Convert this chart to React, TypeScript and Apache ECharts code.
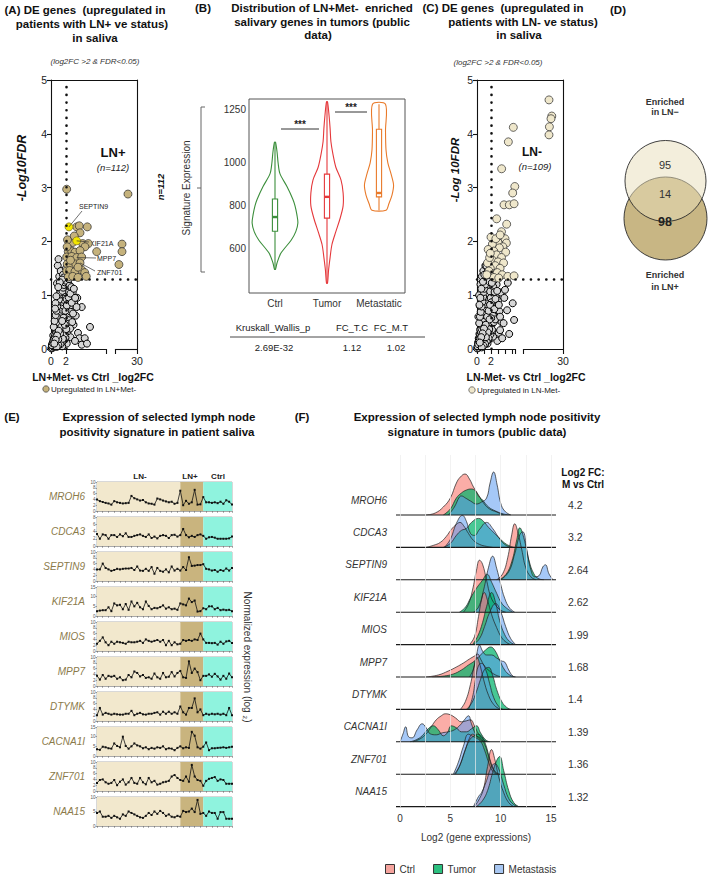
import React, { useEffect, useRef } from "react";
import * as echarts from "echarts";

const FONT = '"Liberation Sans", Arial, Helvetica, sans-serif';

/* ===== (A) saliva DE genes, LN+Met- vs Ctrl : [log2FC, -log10 FDR] ===== */
const lnPosBackground: number[][] = [
  [0.05, 0.01], [0.1, 0.03], [0.2, 0.02], [0.3, 0.05], [0.15, 0.08], [0.4, 0.04], [0.5, 0.1], [0.25, 0.12],
  [0.6, 0.06], [0.7, 0.15], [0.35, 0.18], [0.8, 0.09], [0.9, 0.2], [0.45, 0.24], [1.0, 0.13], [1.1, 0.27],
  [0.55, 0.3], [1.2, 0.18], [0.65, 0.36], [1.3, 0.33], [0.75, 0.42], [1.4, 0.24], [0.85, 0.48], [1.5, 0.4],
  [0.95, 0.54], [1.6, 0.3], [1.05, 0.6], [1.7, 0.47], [1.15, 0.66], [1.8, 0.55], [1.25, 0.72], [1.9, 0.38],
  [1.35, 0.78], [2.0, 0.62], [1.45, 0.84], [2.1, 0.5], [1.55, 0.9], [2.2, 0.7], [1.65, 0.96], [2.3, 0.58],
  [1.75, 1.02], [2.4, 0.8], [1.85, 1.08], [2.5, 0.66], [1.95, 1.14], [2.6, 0.88], [2.05, 1.2], [2.7, 0.74],
  [2.15, 1.26], [2.8, 0.95], [1.0, 0.95], [1.2, 1.1], [0.9, 0.7], [0.7, 0.55], [0.5, 0.4], [0.3, 0.25],
  [1.4, 1.2], [1.6, 1.25], [1.3, 0.5], [1.7, 0.75], [2.25, 1.0], [2.45, 1.1], [2.9, 1.05], [3.1, 0.85],
  [3.3, 0.62], [3.0, 0.45], [3.6, 0.3], [3.8, 0.2], [4.1, 0.08], [2.6, 0.22], [3.2, 0.15], [2.1, 0.1],
  [1.5, 0.05], [4.1, 0.78], [5.2, 0.41], [4.5, 0.2], [4.8, 0.1], [3.5, 0.95], [1.1, 1.35], [0.9, 1.55],
  [1.3, 1.45], [1.6, 1.38], [1.9, 1.3], [0.8, 1.22], [1.0, 1.67], [2.3, 1.4], [2.0, 1.5], [1.2, 0.85],
  [0.12, 0.07], [0.22, 0.11], [0.33, 0.15], [0.41, 0.19], [0.52, 0.23], [0.58, 0.27], [0.71, 0.31], [0.77, 0.36],
  [0.88, 0.39], [0.97, 0.45], [1.08, 0.49], [1.16, 0.57], [1.27, 0.61], [1.38, 0.69], [1.47, 0.73], [1.58, 0.81],
  [1.66, 0.87], [1.79, 0.91], [1.88, 0.99], [1.97, 1.05], [2.12, 1.09], [2.18, 1.17], [2.33, 1.21], [0.36, 0.41],
  [0.48, 0.52], [0.62, 0.63], [0.73, 0.71], [0.84, 0.79], [0.93, 0.88], [1.06, 0.92], [1.13, 1.01], [1.24, 1.05],
  [1.33, 1.13], [1.42, 1.18], [1.52, 1.08], [1.62, 1.14], [1.73, 1.19], [1.82, 1.24], [1.98, 1.27], [2.07, 0.93],
  [2.21, 0.84], [2.35, 0.96], [2.52, 0.79], [2.64, 0.69], [2.38, 0.47], [2.22, 0.33], [1.93, 0.21], [1.71, 0.16],
  [1.44, 0.12], [1.27, 0.09], [0.98, 0.07], [0.76, 0.04], [1.82, 0.28], [1.58, 0.19], [1.36, 0.41], [1.67, 0.58],
  [1.92, 0.71], [2.11, 0.81], [1.21, 0.29], [0.97, 0.18], [2.48, 1.18], [2.58, 1.03], [2.76, 0.86], [2.94, 0.66],
  [2.83, 0.5], [2.55, 0.38], [2.04, 0.37], [1.85, 0.45], [1.48, 0.52], [1.03, 0.34], [0.82, 0.25], [0.62, 0.17],
  [0.44, 0.1], [2.72, 1.15], [2.39, 1.3], [1.71, 1.33], [1.47, 1.29], [1.18, 1.24], [0.97, 1.15], [0.72, 0.98],
  [0.6, 0.85], [0.55, 0.75], [3.05, 1.12], [3.22, 0.95], [3.41, 0.78],
];
const lnPosUpregulated: number[][] = [
  [2.09, 2.97], [3.43, 2.27], [3.77, 2.29], [4.84, 2.27], [3.87, 2.16], [2.44, 1.98], [2.89, 1.98], [4.22, 1.96],
  [4.98, 1.96], [4.53, 1.9], [6.09, 1.81], [2.3, 1.81], [2.76, 1.82], [3.2, 1.8], [3.87, 1.83], [2.09, 1.71],
  [2.76, 1.72], [3.43, 1.7], [4.09, 1.71], [2.16, 1.58], [2.6, 1.57], [3.3, 1.58], [3.87, 1.6], [2.09, 1.45],
  [2.5, 1.46], [3.2, 1.44], [4.1, 1.47], [4.5, 1.42], [2.3, 1.34], [2.9, 1.35], [3.6, 1.33], [4.7, 1.35],
  [2.2, 2.03], [3.1, 2.1], [2.6, 1.65], [3.6, 1.52], [2.15, 1.9],
  [25.9, 2.88], [23.2, 1.95], [23.2, 1.81], [21.8, 1.57],
];
const lnPosMarkedGenes = ["SEPTIN9", "KIF21A", "MPP7", "ZNF701"];
const lnPosMarkedValues: number[][] = [[2.4, 2.27], [3.42, 2.01], [3.43, 1.7], [3.87, 1.6]];
const lnPosSelectedCount = 2; // first genes drawn in yellow

/* ===== (C) saliva DE genes, LN-Met- vs Ctrl ===== */
const lnNegBackground: number[][] = [
  [0.02, 0.01], [0.1, 0.04], [0.2, 0.02], [0.3, 0.08], [0.15, 0.12], [0.4, 0.05], [0.5, 0.14], [0.25, 0.2],
  [0.6, 0.1], [0.7, 0.22], [0.35, 0.28], [0.8, 0.16], [0.9, 0.3], [0.45, 0.36], [1.0, 0.24], [1.1, 0.4],
  [0.55, 0.44], [1.2, 0.32], [0.65, 0.52], [1.3, 0.48], [0.75, 0.6], [1.4, 0.38], [0.85, 0.68], [1.5, 0.56],
  [0.95, 0.76], [1.6, 0.46], [1.05, 0.84], [1.7, 0.64], [1.15, 0.92], [1.8, 0.74], [1.25, 1.0], [1.9, 0.56],
  [1.35, 1.08], [2.0, 0.84], [1.45, 1.16], [2.1, 0.68], [1.55, 1.24], [2.2, 0.94], [1.65, 1.32], [2.3, 0.78],
  [1.75, 1.4], [2.4, 1.02], [1.85, 1.48], [2.5, 0.88], [1.95, 1.2], [2.6, 1.1], [2.05, 1.36], [2.7, 0.98],
  [0.2, 0.6], [0.4, 0.8], [0.6, 1.0], [0.8, 1.15], [1.0, 1.3], [0.5, 1.2], [0.3, 1.0], [0.9, 1.45],
  [1.2, 1.55], [0.7, 1.35], [2.8, 1.2], [3.0, 0.9], [3.2, 0.7], [3.5, 0.5], [3.8, 0.48], [4.3, 0.72],
  [5.1, 0.85], [4.4, 1.23], [5.3, 0.54], [3.1, 0.3], [2.9, 0.15], [3.6, 0.2], [4.6, 0.28], [2.3, 0.23],
  [1.5, 0.1], [2.1, 0.45], [2.7, 0.6], [3.4, 1.05], [3.9, 0.95], [4.0, 1.1], [2.45, 1.28], [3.3, 0.35],
  [0.08, 0.05], [0.18, 0.09], [0.27, 0.16], [0.38, 0.2], [0.46, 0.27], [0.57, 0.31], [0.63, 0.38], [0.74, 0.43],
  [0.83, 0.5], [0.92, 0.56], [1.02, 0.63], [1.11, 0.69], [1.22, 0.76], [1.31, 0.83], [1.42, 0.9], [1.51, 0.97],
  [1.62, 1.04], [1.71, 1.11], [1.82, 1.18], [1.91, 1.27], [2.03, 1.31], [0.31, 0.48], [0.42, 0.6], [0.53, 0.69],
  [0.66, 0.79], [0.78, 0.88], [0.87, 0.97], [0.98, 1.06], [1.07, 1.12], [1.19, 1.2], [1.28, 1.28], [1.39, 1.35],
  [1.48, 1.42], [1.58, 1.46], [1.68, 1.52], [1.77, 1.25], [1.88, 1.07], [1.97, 0.95], [2.09, 0.87], [2.18, 0.74],
  [2.29, 0.62], [2.41, 0.5], [2.15, 0.36], [1.92, 0.27], [1.66, 0.2], [1.38, 0.14], [1.16, 0.09], [0.93, 0.06],
  [0.68, 0.03], [1.74, 0.37], [1.53, 0.31], [1.27, 0.22], [1.45, 0.6], [1.66, 0.71], [1.86, 0.82], [2.31, 1.16],
  [2.52, 1.06], [2.64, 0.93], [2.47, 0.74], [2.59, 0.55], [2.02, 0.57], [1.79, 0.55], [1.24, 0.45], [1.0, 0.38],
  [0.8, 0.29], [0.6, 0.22], [0.4, 0.12], [2.12, 1.23], [2.25, 1.38], [1.95, 1.42], [1.35, 1.55], [1.05, 1.38],
  [0.85, 1.25], [0.62, 1.12], [0.48, 0.95], [0.35, 0.82], [2.88, 1.08], [3.12, 0.82], [3.3, 0.6],
];
const lnNegUpregulated: number[][] = [
  [5.19, 4.12], [4.48, 3.85], [3.52, 3.35], [5.4, 3.02], [5.1, 2.9], [3.86, 2.68], [4.62, 2.68], [5.3, 2.7],
  [2.81, 2.42], [4.24, 2.32], [3.5, 2.18], [4.0, 2.05], [2.5, 2.0], [3.0, 1.98], [2.2, 1.95], [4.2, 1.97],
  [3.7, 1.9], [3.2, 1.88], [2.4, 1.82], [2.8, 1.75], [4.1, 1.8], [3.5, 1.7], [2.2, 1.65], [3.0, 1.62],
  [3.8, 1.6], [2.6, 1.55], [1.9, 1.5], [3.3, 1.5], [2.1, 1.4], [2.9, 1.42], [3.6, 1.38], [4.4, 1.35],
  [5.3, 1.36], [2.4, 1.33], [3.1, 1.32], [1.5, 1.6], [1.7, 1.45], [1.4, 1.38], [1.8, 1.7], [1.6, 1.85],
  [2.0, 2.08], [2.7, 2.05], [3.3, 2.12], [1.9, 1.78],
  [26.5, 4.63], [27.2, 4.33], [27.0, 4.28], [26.6, 4.13], [26.5, 3.98],
];
const lnPosCount = 112;
const lnNegCount = 109;
const log2fcCut = 2;
const fdrCut = 1.3;

/* ===== (B) signature expression in tumors ===== */
const violinGroups = ["Ctrl", "Tumor", "Metastatic"];
const ctrlLevels = [505, 535, 580, 640, 680, 720, 760, 800, 830, 890, 950, 1000, 1050, 1097];
const ctrlWidths = [0.01, 0.04, 0.115, 0.31, 0.4, 0.44, 0.42, 0.385, 0.345, 0.23, 0.095, 0.06, 0.04, 0.01];
const tumorLevels = [440, 500, 560, 620, 680, 740, 800, 860, 920, 980, 1040, 1100, 1160, 1220, 1285];
const tumorWidths = [0.01, 0.03, 0.06, 0.095, 0.17, 0.25, 0.31, 0.31, 0.27, 0.17, 0.115, 0.075, 0.06, 0.04, 0.01];
const metaLevels = [780, 810, 850, 897, 950, 1000, 1060, 1150, 1274];
const metaWidths = [0.135, 0.19, 0.25, 0.28, 0.23, 0.17, 0.135, 0.125, 0.125];
// min, q1, median, q3, max
const boxStats = [
  [505, 682, 748, 832, 1097],
  [440, 743, 842, 948, 1285],
  [780, 842, 860, 1157, 1274],
];
const signatureTicks = [600, 800, 1000, 1250];
const statHeader = ["Kruskall_Wallis_p", "FC_T.C", "FC_M.T"];
const statValues = ["2.69E-32", "1.12", "1.02"];

/* ===== (D) overlap of enriched genes ===== */
const vennOnlyNeg = 95;
const vennBoth = 14;
const vennOnlyPos = 98;

/* ===== (E) saliva expression per sample (LN- 0..28, LN+ 29..36, Ctrl 37..47) ===== */
const salivaGenes = ["MROH6", "CDCA3", "SEPTIN9", "KIF21A", "MIOS", "MPP7", "DTYMK", "CACNA1I", "ZNF701", "NAA15"];
const salivaMROH6 = [4.0, 3.4, 3.1, 2.8, 2.6, 2.2, 3.4, 3.0, 2.8, 2.6, 2.7, 2.8, 5.2, 4.4, 4.0, 3.6, 3.8, 3.0, 2.6, 2.5, 2.2, 4.3, 4.0, 3.6, 3.3, 3.0, 3.2, 2.5, 2.8, 7.0, 2.0, 3.5, 2.5, 3.0, 7.3, 2.2, 2.3, 4.8, 3.0, 3.0, 2.8, 3.0, 2.7, 3.2, 2.5, 3.7, 3.2, 2.2];
const salivaCDCA3 = [3.3, 2.0, 3.2, 3.0, 2.0, 3.0, 3.0, 2.5, 3.2, 2.7, 3.5, 2.5, 2.5, 2.8, 3.0, 3.2, 2.8, 2.5, 3.2, 2.2, 2.6, 2.1, 2.8, 3.0, 2.8, 2.2, 3.0, 3.1, 2.6, 3.0, 4.7, 3.0, 2.4, 2.8, 2.5, 3.0, 3.2, 2.8, 2.0, 2.4, 2.5, 2.3, 2.0, 2.0, 2.0, 2.0, 2.1, 2.6];
const salivaSEPTIN9 = [4.0, 4.0, 6.0, 4.5, 4.0, 3.5, 3.8, 4.2, 4.0, 4.2, 4.3, 4.3, 4.5, 3.8, 5.0, 3.6, 3.5, 4.2, 3.5, 4.8, 2.5, 4.5, 3.5, 3.2, 4.0, 3.0, 5.0, 3.6, 4.2, 3.6, 4.8, 3.8, 8.2, 5.2, 5.3, 5.5, 5.5, 5.8, 4.2, 4.0, 3.6, 3.8, 3.2, 3.8, 3.5, 4.3, 3.6, 4.5];
const salivaKIF21A = [2.5, 2.8, 3.0, 3.0, 4.5, 2.5, 6.5, 5.5, 5.8, 3.5, 6.2, 3.2, 7.5, 5.0, 6.8, 4.5, 3.5, 7.5, 5.2, 3.5, 4.2, 4.0, 4.6, 5.5, 3.8, 4.5, 3.5, 3.8, 3.2, 6.5, 6.0, 5.5, 9.0, 7.2, 8.0, 2.3, 2.5, 4.0, 3.5, 5.0, 5.0, 3.5, 4.2, 3.0, 3.3, 3.0, 3.2, 2.5];
const salivaMIOS = [2.5, 3.5, 4.7, 3.0, 2.0, 3.2, 2.5, 3.2, 3.0, 2.8, 2.5, 3.2, 3.0, 3.0, 3.2, 3.5, 2.8, 4.0, 3.5, 3.2, 3.5, 3.8, 3.2, 3.8, 2.0, 3.5, 2.0, 3.0, 2.3, 2.5, 3.8, 3.5, 3.8, 3.5, 4.0, 3.8, 6.0, 4.0, 2.8, 2.8, 2.7, 2.8, 2.2, 3.2, 2.5, 3.3, 3.5, 2.8];
const salivaMPP7 = [3.5, 2.2, 3.8, 2.5, 3.5, 3.2, 3.5, 2.5, 3.0, 2.0, 2.2, 3.8, 3.0, 5.0, 4.5, 3.3, 3.8, 2.8, 3.0, 2.5, 4.3, 3.0, 2.5, 4.5, 3.0, 3.2, 4.8, 3.3, 4.5, 5.2, 3.0, 2.8, 8.5, 4.5, 6.0, 4.8, 2.0, 3.5, 3.5, 4.0, 3.2, 4.2, 3.3, 2.2, 3.5, 2.5, 4.3, 3.0];
const salivaDTYMK = [2.0, 4.5, 2.2, 2.8, 2.5, 2.2, 2.5, 2.3, 2.2, 2.2, 2.5, 2.5, 3.5, 2.0, 2.5, 2.8, 2.3, 2.2, 2.5, 2.5, 2.8, 3.0, 2.2, 3.2, 2.5, 3.2, 2.5, 3.0, 2.5, 5.0, 3.0, 2.2, 4.5, 4.5, 7.8, 3.0, 4.0, 2.0, 2.5, 2.2, 2.5, 2.3, 2.5, 2.2, 2.5, 2.0, 4.5, 2.0];
const salivaCACNA1I = [3.5, 3.2, 4.8, 4.5, 4.0, 3.8, 6.5, 5.2, 4.5, 10.0, 5.2, 3.8, 5.0, 6.5, 5.5, 5.0, 4.0, 4.5, 3.5, 4.2, 3.8, 4.5, 4.2, 5.0, 3.5, 4.0, 3.8, 3.0, 4.2, 5.0, 4.0, 4.5, 4.2, 12.5, 10.5, 4.5, 3.8, 4.8, 7.0, 3.0, 4.0, 4.0, 4.2, 4.3, 4.5, 4.2, 4.5, 4.8];
const salivaZNF701 = [2.8, 3.8, 4.0, 3.0, 2.5, 2.8, 3.8, 2.0, 3.2, 4.0, 2.2, 3.0, 4.5, 2.8, 2.5, 4.5, 3.0, 2.3, 4.5, 3.0, 3.5, 2.2, 2.5, 3.0, 3.2, 3.5, 5.0, 5.5, 4.5, 3.8, 3.5, 5.0, 3.2, 9.0, 5.0, 3.8, 3.5, 1.8, 3.5, 4.2, 4.5, 4.8, 3.5, 4.0, 3.8, 2.5, 2.5, 2.5];
const salivaNAA15 = [4.5, 5.0, 3.2, 3.2, 3.5, 2.8, 3.5, 3.0, 2.5, 4.0, 3.5, 5.0, 4.5, 4.0, 3.5, 3.0, 2.8, 3.5, 4.5, 3.8, 5.0, 4.2, 5.2, 4.5, 3.5, 4.0, 3.2, 3.0, 3.5, 3.2, 5.2, 4.8, 5.0, 6.0, 4.8, 9.0, 4.2, 4.5, 3.5, 5.0, 4.5, 4.5, 2.5, 4.8, 4.8, 2.5, 2.5, 2.5];
const salivaSeries = [salivaMROH6, salivaCDCA3, salivaSEPTIN9, salivaKIF21A, salivaMIOS, salivaMPP7, salivaDTYMK, salivaCACNA1I, salivaZNF701, salivaNAA15];
const salivaAxisMax = [10, 8, 10, 15, 10, 10, 10, 15, 10, 10];
const salivaAxisStep = [2, 2, 2, 5, 2, 2, 2, 5, 2, 5];
const salivaGroupNames = ["LN-", "LN+", "Ctrl"];
const salivaGroupStart = [0, 29, 37];
const salivaGroupEnd = [29, 37, 47];

/* ===== (F) tumor expression densities: [log2 expression, density height] ===== */
const ridgeGenes = ["MROH6", "CDCA3", "SEPTIN9", "KIF21A", "MIOS", "MPP7", "DTYMK", "CACNA1I", "ZNF701", "NAA15"];
const ridgeFoldChange = ["4.2", "3.2", "2.64", "2.62", "1.99", "1.68", "1.4", "1.39", "1.36", "1.32"];
const ridgeMROH6 = {
  ctrl: [[2.6, 0], [3.5, 2], [4.3, 8], [5.0, 17], [5.6, 32], [6.0, 38], [6.46, 41], [6.9, 36], [7.3, 28], [7.8, 20], [8.3, 12], [8.9, 6], [9.6, 3], [10.3, 0]],
  tumor: [[4.3, 0], [5.0, 6], [5.6, 17], [6.1, 22], [6.6, 25], [7.1, 26], [7.5, 24], [7.8, 19], [8.2, 15], [8.8, 8], [9.5, 4], [10.3, 1], [11.0, 0]],
  meta: [[4.8, 0], [5.4, 8], [5.9, 18], [6.1, 19], [6.5, 17], [7.0, 14], [7.6, 11], [8.1, 13], [8.6, 17], [8.95, 32], [9.3, 43], [9.65, 30], [10.0, 12], [10.4, 4], [11.0, 0]],
};
const ridgeCDCA3 = {
  ctrl: [[2.6, 0], [3.3, 2], [4.0, 5], [4.6, 11], [5.1, 18], [5.6, 23], [5.96, 25], [6.3, 22], [6.8, 14], [7.3, 7], [7.9, 3], [8.6, 1], [9.2, 0]],
  tumor: [[4.3, 0], [5.0, 4], [5.6, 12], [6.1, 17], [6.6, 19], [7.1, 25], [7.8, 29], [8.3, 26], [8.8, 20], [9.4, 14], [10.0, 8], [10.6, 3], [11.3, 0]],
  meta: [[4.4, 0], [5.0, 8], [5.6, 24], [6.2, 32], [6.6, 26], [7.0, 14], [7.4, 12], [7.9, 18], [8.6, 25], [9.2, 19], [9.8, 10], [10.4, 3], [11.0, 0]],
};
const ridgeSEPTIN9 = {
  ctrl: [[9.6, 0], [10.2, 6], [10.7, 22], [11.1, 45], [11.4, 56], [11.7, 48], [12.1, 30], [12.5, 12], [13.0, 3], [13.5, 0]],
  tumor: [[9.8, 0], [10.5, 5], [11.1, 18], [11.6, 40], [11.9, 52], [12.3, 42], [12.8, 20], [13.3, 6], [13.8, 1], [14.3, 0]],
  meta: [[10.0, 0], [10.8, 8], [11.4, 26], [11.9, 45], [12.2, 48], [12.6, 30], [13.0, 10], [13.4, 3], [13.8, 4], [14.2, 13], [14.45, 15], [14.8, 6], [15.2, 0]],
};
const ridgeKIF21A = {
  ctrl: [[6.3, 0], [6.8, 8], [7.2, 22], [7.6, 42], [7.9, 52], [8.2, 48], [8.6, 32], [9.0, 16], [9.5, 7], [10.0, 2], [10.5, 0]],
  tumor: [[5.9, 0], [6.5, 5], [7.0, 14], [7.6, 24], [8.2, 32], [8.65, 38], [9.1, 30], [9.6, 19], [10.1, 9], [10.6, 4], [11.2, 0]],
  meta: [[7.3, 0], [7.8, 5], [8.3, 22], [8.8, 45], [9.2, 56], [9.6, 44], [10.0, 28], [10.4, 14], [10.9, 4], [11.4, 0]],
};
const ridgeMIOS = {
  ctrl: [[6.9, 0], [7.4, 8], [7.8, 28], [8.1, 45], [8.37, 52], [8.7, 44], [9.1, 30], [9.6, 17], [10.1, 7], [10.6, 2], [11.0, 0]],
  tumor: [[7.2, 0], [7.7, 8], [8.2, 22], [8.6, 38], [9.1, 52], [9.5, 42], [9.9, 24], [10.4, 10], [10.9, 3], [11.4, 0]],
  meta: [[7.3, 0], [7.9, 6], [8.4, 18], [8.9, 32], [9.5, 41], [10.0, 33], [10.5, 18], [11.0, 6], [11.5, 0]],
};
const ridgeMPP7 = {
  ctrl: [[2.6, 0], [3.8, 2], [4.8, 6], [5.6, 10], [6.3, 14], [6.9, 18], [7.4, 21], [7.7, 23], [8.0, 18], [8.4, 11], [8.9, 6], [9.5, 2], [10.1, 0]],
  tumor: [[3.2, 0], [4.4, 1], [5.3, 3], [6.1, 7], [6.8, 12], [7.4, 16], [8.0, 22], [8.5, 27], [9.0, 30], [9.4, 27], [9.9, 17], [10.4, 7], [10.9, 2], [11.4, 0]],
  meta: [[6.9, 0], [7.3, 8], [7.6, 22], [7.9, 32], [8.2, 26], [8.6, 22], [9.1, 22], [9.6, 19], [10.1, 16], [10.4, 15], [10.8, 7], [11.2, 1], [11.5, 0]],
};
const ridgeDTYMK = {
  ctrl: [[6.0, 0], [6.5, 8], [7.0, 25], [7.4, 45], [7.65, 52], [7.9, 46], [8.3, 30], [8.8, 14], [9.3, 5], [9.8, 1], [10.2, 0]],
  tumor: [[6.6, 0], [7.1, 6], [7.6, 18], [8.0, 30], [8.4, 40], [8.8, 42], [9.2, 34], [9.6, 20], [10.1, 8], [10.6, 2], [11.0, 0]],
  meta: [[6.8, 0], [7.2, 12], [7.5, 30], [7.8, 44], [8.1, 46], [8.5, 40], [8.9, 26], [9.3, 12], [9.8, 3], [10.2, 0]],
};
const ridgeCACNA1I = {
  ctrl: [[1.3, 0], [2.0, 3], [2.6, 8], [3.1, 15], [3.6, 22], [4.1, 26], [4.5, 28], [5.0, 27], [5.5, 24], [6.1, 20], [6.6, 21], [7.0, 22], [7.4, 16], [7.8, 8], [8.3, 2], [8.7, 0]],
  tumor: [[1.0, 0], [1.6, 2], [2.2, 6], [2.8, 13], [3.3, 16], [3.8, 12], [4.3, 6], [4.7, 9], [5.1, 16], [5.6, 14], [6.1, 10], [6.6, 10], [7.1, 13], [7.6, 16], [8.0, 9], [8.5, 2], [8.9, 0]],
  meta: [[0.0, 0], [0.3, 8], [0.56, 15], [0.85, 5], [1.2, 4], [1.7, 12], [2.2, 18], [2.6, 14], [3.0, 8], [3.6, 7], [4.2, 9], [4.8, 10], [5.4, 12], [6.0, 17], [6.4, 22], [6.8, 26], [7.1, 18], [7.5, 8], [8.0, 2], [8.5, 0]],
};
const ridgeZNF701 = {
  ctrl: [[5.5, 0], [6.0, 10], [6.5, 25], [6.9, 36], [7.2, 40], [7.6, 38], [8.0, 36], [8.4, 30], [8.8, 18], [9.2, 6], [9.6, 1], [10.0, 0]],
  tumor: [[5.4, 0], [5.9, 8], [6.4, 22], [6.9, 34], [7.3, 38], [7.7, 40], [8.1, 38], [8.5, 30], [8.9, 16], [9.3, 5], [9.7, 0]],
  meta: [[5.3, 0], [5.8, 12], [6.3, 28], [6.8, 40], [7.2, 38], [7.6, 36], [8.0, 33], [8.4, 24], [8.8, 12], [9.2, 3], [9.6, 0]],
};
const ridgeNAA15 = {
  ctrl: [[7.4, 0], [7.9, 8], [8.3, 18], [8.7, 40], [9.1, 57], [9.4, 48], [9.8, 30], [10.3, 14], [10.8, 4], [11.3, 0]],
  tumor: [[7.6, 0], [8.2, 6], [8.7, 16], [9.2, 34], [9.6, 46], [9.9, 50], [10.3, 36], [10.8, 16], [11.3, 4], [11.8, 0]],
  meta: [[7.3, 0], [7.8, 10], [8.1, 14], [8.6, 26], [9.0, 38], [9.4, 43], [9.8, 38], [10.3, 22], [10.8, 8], [11.3, 2], [11.7, 0]],
};
const ridgeData = [ridgeMROH6, ridgeCDCA3, ridgeSEPTIN9, ridgeKIF21A, ridgeMIOS, ridgeMPP7, ridgeDTYMK, ridgeCACNA1I, ridgeZNF701, ridgeNAA15];
const ridgeGroups = ["Ctrl", "Tumor", "Metastasis"];
const ridgeTicks = [0, 5, 10, 15];

/* ---------- styling ---------- */
const TAN = "#c5b27c";
const BEIGE = "#efe7cb";
const GREY_PT = "#d6d6d6";
const VIOLIN_COLORS = ["#3b8e3b", "#e5383b", "#e97a2a"];
const RIDGE_FILL = ["rgba(248,118,109,0.6)", "rgba(0,179,107,0.72)", "rgba(91,155,240,0.55)"];
const RIDGE_KEY = ["#f5a39d", "#2cc07f", "#a8c7f2"];
const SALIVA_BG = ["#f2e8cd", "#c9b47e", "#8ff3de"];
const OLIVE = "#8b7a4a";

type Brk = { lo: number; hi: number; max: number; farFrom: number; farTo: number };
const breakA: Brk = { lo: 7.33, hi: 8.53, max: 11.47, farFrom: 20, farTo: 30 };
const breakC: Brk = { lo: 5.43, hi: 6.57, max: 12.29, farFrom: 20, farTo: 30 };
const toBroken = (v: number, b: Brk) => (v <= b.lo ? v : b.hi + ((v - b.farFrom) * (b.max - b.hi)) / (b.farTo - b.farFrom));

function txt(x: number, y: number, text: string, o: any = {}) {
  return {
    type: "text",
    x,
    y,
    rotation: o.rotation || 0,
    silent: true,
    style: {
      text,
      fill: o.color || "#111",
      fontSize: o.size || 10,
      fontWeight: o.weight || "normal",
      fontStyle: o.italic ? "italic" : "normal",
      fontFamily: FONT,
      align: o.align || "center",
      verticalAlign: "middle",
    },
  };
}

function buildOption() {
  const grid: any[] = [];
  const xAxis: any[] = [];
  const yAxis: any[] = [];
  const series: any[] = [];
  const graphic: any[] = [];
  const axisColor = "#111";
  const dotted = { color: "#111", width: 2.6, type: [0.1, 7.6], cap: "round" };

  /* ---- volcano plots (A, C) ---- */
  const addVolcano = (rect: any, brk: Brk, ticks: number[], other: number[][], up: number[][], upColor: string) => {
    const gi = grid.length;
    grid.push({ ...rect });
    const xi = xAxis.length;
    xAxis.push({
      type: "value", gridIndex: gi, min: 0, max: brk.max,
      axisLine: { show: false, onZero: false },
      axisTick: { show: true, customValues: ticks, length: 5, lineStyle: { color: axisColor, width: 1.1 } },
      axisLabel: {
        customValues: [0, 2, brk.max],
        formatter: (v: number) => (Math.abs(v - brk.max) < 1e-6 ? String(brk.farTo) : String(v)),
        fontSize: 10.5, color: "#222", margin: 6, fontFamily: FONT,
      },
      splitLine: { show: false },
    });
    xAxis.push({
      type: "value", gridIndex: gi, position: "top", min: 0, max: brk.max,
      axisLine: { show: true, onZero: false, lineStyle: { color: axisColor, width: 1.1 } },
      axisTick: { show: false }, axisLabel: { show: false }, splitLine: { show: false },
    });
    const yi = yAxis.length;
    yAxis.push({
      type: "value", gridIndex: gi, min: 0, max: 5, interval: 1,
      axisLine: { show: true, onZero: false, lineStyle: { color: axisColor, width: 1.1 } },
      axisTick: { show: true, length: 4, lineStyle: { color: axisColor, width: 1.1 } },
      axisLabel: { fontSize: 10.5, color: "#222", margin: 4, fontFamily: FONT },
      splitLine: { show: false },
    });
    yAxis.push({
      type: "value", gridIndex: gi, position: "right", min: 0, max: 5,
      axisLine: { show: true, onZero: false, lineStyle: { color: axisColor, width: 1.1 } },
      axisTick: { show: false }, axisLabel: { show: false }, splitLine: { show: false },
    });
    const solid = { type: "solid", color: axisColor, width: 1.1 };
    series.push({
      type: "scatter", name: "not significant", xAxisIndex: xi, yAxisIndex: yi, silent: true, z: 2,
      data: other.map((p) => [toBroken(p[0], brk), p[1]]),
      symbolSize: 7,
      itemStyle: { color: GREY_PT, borderColor: "#000", borderWidth: 1, opacity: 1 },
      markLine: {
        silent: true, symbol: ["none", "none"], label: { show: false },
        data: [
          [{ coord: [0, 0], lineStyle: solid }, { coord: [brk.lo, 0] }],
          [{ coord: [brk.hi, 0], lineStyle: solid }, { coord: [brk.max, 0] }],
          [{ coord: [log2fcCut, 0], lineStyle: dotted }, { coord: [log2fcCut, 5] }],
          [{ coord: [0, fdrCut], lineStyle: dotted }, { coord: [brk.max, fdrCut] }],
        ],
      },
    });
    series.push({
      type: "scatter", name: "upregulated", xAxisIndex: xi, yAxisIndex: yi, silent: true, z: 3,
      data: up.map((p) => [toBroken(p[0], brk), p[1]]),
      symbolSize: 8,
      itemStyle: { color: upColor, borderColor: "#2a2a2a", borderWidth: 0.7, opacity: 1 },
    });
    return { xi, yi };
  };

  const A = addVolcano({ left: 51, top: 80, width: 86, height: 269 }, breakA, [0, 2, breakA.lo, breakA.hi, breakA.max], lnPosBackground, lnPosUpregulated, TAN);
  // highlighted genes with leader lines
  const leaderEnds = [[82, 211], [89, 242], [96, 258], [95, 271]];
  series.push({
    type: "scatter", name: "selected genes", xAxisIndex: A.xi, yAxisIndex: A.yi, silent: true, z: 4,
    data: lnPosMarkedValues.slice(0, lnPosSelectedCount).map((p) => [toBroken(p[0], breakA), p[1]]),
    symbolSize: 8,
    itemStyle: { color: "#f2e600", borderColor: "#7a6d1c", borderWidth: 0.7, opacity: 1 },
    markLine: {
      silent: true, symbol: ["none", "none"], label: { show: false },
      lineStyle: { type: "solid", color: "#333", width: 0.7 },
      data: lnPosMarkedValues.map((p, i) => [{ coord: [toBroken(p[0], breakA), p[1]] }, { x: leaderEnds[i][0], y: leaderEnds[i][1] }]),
    },
  });
  const labelPos = [[79, 206], [90, 243], [97, 258], [97, 272]];
  lnPosMarkedGenes.forEach((g, i) => graphic.push(txt(labelPos[i][0], labelPos[i][1], g, { size: 7, align: "left", color: "#222" })));

  addVolcano({ left: 477, top: 80, width: 86, height: 269 }, breakC, [0, 1, 2, 3, 4, 5, breakC.lo, breakC.hi, breakC.max], lnNegBackground, lnNegUpregulated, BEIGE);

  // panel A texts
  graphic.push(txt(85, 10, "(A) DE genes  (upregulated in", { size: 11.5, weight: "bold" }));
  graphic.push(txt(92, 24, "patients with LN+ ve status)", { size: 11.5, weight: "bold" }));
  graphic.push(txt(95, 38, "in saliva", { size: 11.5, weight: "bold" }));
  graphic.push(txt(95, 61, "(log2FC >2 & FDR<0.05)", { size: 8, italic: true, color: "#333" }));
  graphic.push(txt(22, 168, "-Log10FDR", { size: 12.5, weight: "bold", italic: true, rotation: Math.PI / 2 }));
  graphic.push(txt(113, 152, "LN+", { size: 13, weight: "bold" }));
  graphic.push(txt(113, 167, `(n=${lnPosCount})`, { size: 9.5, italic: true, color: "#222" }));
  graphic.push(txt(93, 377, "LN+Met- vs Ctrl _log2FC", { size: 10.5, weight: "bold" }));
  graphic.push({ type: "circle", silent: true, shape: { cx: 46, cy: 389, r: 3.2 }, style: { fill: TAN, stroke: "#333", lineWidth: 0.7 } });
  graphic.push(txt(51, 389, "Upregulated in LN+Met-", { size: 8, align: "left", color: "#222" }));
  graphic.push(txt(160, 187, `n=${lnPosCount}`, { size: 9.5, weight: "bold", italic: true, rotation: Math.PI / 2 }));

  // panel C texts
  graphic.push(txt(503, 8, "(C) DE genes  (upregulated in", { size: 11.5, weight: "bold" }));
  graphic.push(txt(523, 21.5, "patients with LN- ve status)", { size: 11.5, weight: "bold" }));
  graphic.push(txt(519, 35, "in saliva", { size: 11.5, weight: "bold" }));
  graphic.push(txt(498, 62, "(log2FC >2 & FDR<0.05)", { size: 8, italic: true, color: "#333" }));
  graphic.push(txt(455, 170, "-Log 10FDR", { size: 11.5, weight: "bold", italic: true, rotation: Math.PI / 2 }));
  graphic.push(txt(532, 152, "LN-", { size: 12, weight: "bold" }));
  graphic.push(txt(535, 166, `(n=${lnNegCount})`, { size: 9.5, italic: true, color: "#222" }));
  graphic.push(txt(526, 377, "LN-Met- vs Ctrl _log2FC", { size: 10.5, weight: "bold" }));
  graphic.push({ type: "circle", silent: true, shape: { cx: 472, cy: 390, r: 3.2 }, style: { fill: BEIGE, stroke: "#444", lineWidth: 0.7 } });
  graphic.push(txt(477, 390, "Upregulated in LN-Met-", { size: 8, align: "left", color: "#222" }));

  /* ---- (B) violins ---- */
  const bGrid = grid.length;
  grid.push({ left: 249, top: 99, width: 156, height: 194, show: true, borderColor: "#555", borderWidth: 1 });
  const bx = xAxis.length;
  xAxis.push({
    type: "category", gridIndex: bGrid, data: violinGroups,
    axisLine: { show: false }, axisTick: { show: false },
    axisLabel: { interval: 0, fontSize: 10, color: "#333", margin: 5, fontFamily: FONT },
  });
  const by = yAxis.length;
  yAxis.push({
    type: "value", gridIndex: bGrid, min: 394, max: 1298,
    axisLine: { show: false }, axisTick: { show: false }, splitLine: { show: false },
    axisLabel: { customValues: signatureTicks, formatter: (v: number) => String(v), fontSize: 10, color: "#333", margin: 3, fontFamily: FONT },
  });
  const levels = [ctrlLevels, tumorLevels, metaLevels];
  const widths = [ctrlWidths, tumorWidths, metaWidths];
  series.push({
    type: "custom", name: "signature", xAxisIndex: bx, yAxisIndex: by, silent: true, clip: false,
    data: boxStats.map((s, i) => [i, ...s]),
    encode: { x: 0, y: [1, 2, 3, 4, 5] },
    renderItem: (params: any, api: any) => {
      const i = api.value(0);
      const band = api.size([1, 0])[0];
      const lv = levels[i];
      const wd = widths[i];
      const left = lv.map((v, k) => { const c = api.coord([i, v]); return [c[0] - wd[k] * band, c[1]]; });
      const right = lv.map((v, k) => { const c = api.coord([i, v]); return [c[0] + wd[k] * band, c[1]]; }).reverse();
      const color = VIOLIN_COLORS[i];
      const lo = api.coord([i, api.value(1)]);
      const q1 = api.coord([i, api.value(2)]);
      const med = api.coord([i, api.value(3)]);
      const q3 = api.coord([i, api.value(4)]);
      const hi = api.coord([i, api.value(5)]);
      const bw = band * 0.1;
      return {
        type: "group",
        children: [
          { type: "polygon", shape: { points: left.concat(right), smooth: 0.3 }, style: { fill: "none", stroke: color, lineWidth: 1.1 } },
          { type: "line", shape: { x1: lo[0], y1: lo[1], x2: hi[0], y2: hi[1] }, style: { stroke: color, lineWidth: 1.1 } },
          { type: "rect", shape: { x: q3[0] - bw / 2, y: q3[1], width: bw, height: q1[1] - q3[1] }, style: { fill: "#fff", stroke: color, lineWidth: 1.1 } },
          { type: "line", shape: { x1: med[0] - bw / 2, y1: med[1], x2: med[0] + bw / 2, y2: med[1] }, style: { stroke: color, lineWidth: 2.4 } },
        ],
      };
    },
  });
  graphic.push(txt(203, 8, "(B)", { size: 11.5, weight: "bold" }));
  graphic.push(txt(322, 8, "Distribution of LN+Met-  enriched", { size: 11.5, weight: "bold" }));
  graphic.push(txt(322, 21.5, "salivary genes in tumors (public", { size: 11.5, weight: "bold" }));
  graphic.push(txt(318, 35, "data)", { size: 11.5, weight: "bold" }));
  graphic.push({ type: "polyline", silent: true, shape: { points: [[205, 107], [201, 107], [201, 272], [205, 272]] }, style: { fill: "none", stroke: "#666", lineWidth: 1 } });
  graphic.push({ type: "line", silent: true, shape: { x1: 201, y1: 188, x2: 197, y2: 188 }, style: { stroke: "#666", lineWidth: 1 } });
  graphic.push(txt(186, 188, "Signature Expression", { size: 10, color: "#333", rotation: Math.PI / 2 }));
  graphic.push({ type: "line", silent: true, shape: { x1: 281, y1: 129, x2: 319, y2: 129 }, style: { stroke: "#333", lineWidth: 1 } });
  graphic.push(txt(300, 124, "***", { size: 10, weight: "bold", color: "#222" }));
  graphic.push({ type: "line", silent: true, shape: { x1: 335, y1: 112, x2: 367, y2: 112 }, style: { stroke: "#333", lineWidth: 1 } });
  graphic.push(txt(351, 107, "***", { size: 10, weight: "bold", color: "#222" }));
  const colX = [273, 352, 391];
  const valX = [274, 352, 396];
  statHeader.forEach((h, i) => graphic.push(txt(colX[i], 327, h, { size: 9.5, color: "#222" })));
  statValues.forEach((v, i) => graphic.push(txt(valX[i], 347, v, { size: 9.5, color: "#222" })));
  graphic.push({ type: "line", silent: true, shape: { x1: 230, y1: 337, x2: 425, y2: 337 }, style: { stroke: "#333", lineWidth: 0.9 } });

  /* ---- (D) Venn ---- */
  graphic.push(txt(618, 10, "(D)", { size: 11.5, weight: "bold" }));
  graphic.push({ type: "circle", silent: true, shape: { cx: 665.5, cy: 218.5, r: 41.5 }, style: { fill: "#c8b684", stroke: "#2a2a2a", lineWidth: 0.9 } });
  graphic.push({ type: "circle", silent: true, shape: { cx: 665.5, cy: 181, r: 40.5 }, style: { fill: "rgba(232,222,186,0.5)", stroke: "#2a2a2a", lineWidth: 0.9 } });
  graphic.push(txt(665, 165, String(vennOnlyNeg), { size: 11, color: "#333" }));
  graphic.push(txt(665, 194, String(vennBoth), { size: 11, color: "#333" }));
  graphic.push(txt(665, 222, String(vennOnlyPos), { size: 12.5, weight: "bold", color: "#222" }));
  graphic.push(txt(665, 102, "Enriched", { size: 9, weight: "bold", color: "#333" }));
  graphic.push(txt(665, 112, "in LN\u2212", { size: 9, weight: "bold", color: "#333" }));
  graphic.push(txt(665, 275, "Enriched", { size: 9, weight: "bold", color: "#333" }));
  graphic.push(txt(665, 287, "in LN+", { size: 9, weight: "bold", color: "#333" }));

  /* ---- (E) saliva expression profiles ---- */
  graphic.push(txt(12, 417, "(E)", { size: 11.5, weight: "bold" }));
  graphic.push(txt(159, 417, "Expression of selected lymph node", { size: 11.5, weight: "bold" }));
  graphic.push(txt(157, 432, "positivity signature in patient saliva", { size: 11.5, weight: "bold" }));
  const headX = [140, 190, 218];
  salivaGroupNames.forEach((g, i) => graphic.push(txt(headX[i], 476, g, { size: 8, weight: "bold", color: "#222" })));
  graphic.push(txt(247, 657, "Normalized expression (log \u2082)", { size: 10, color: "#333", rotation: -Math.PI / 2 }));
  salivaGenes.forEach((gene, i) => {
    const top = 482 + 35 * i;
    const gi = grid.length;
    grid.push({ left: 97, top, width: 135, height: 29, show: true, borderColor: "#8f8f8f", borderWidth: 0.7 });
    const xi = xAxis.length;
    xAxis.push({
      type: "value", gridIndex: gi, min: 0, max: 47, interval: 2,
      axisLine: { show: true, onZero: false, lineStyle: { color: "#888", width: 0.6 } },
      axisTick: { show: true, length: 1.8, lineStyle: { color: "#666", width: 0.6 } },
      axisLabel: { show: false }, splitLine: { show: false },
    });
    const yi = yAxis.length;
    yAxis.push({
      type: "value", gridIndex: gi, min: 0, max: salivaAxisMax[i], interval: salivaAxisStep[i],
      axisLine: { show: true, onZero: false, lineStyle: { color: "#888", width: 0.6 } },
      axisTick: { show: true, length: 1.5, lineStyle: { color: "#666", width: 0.6 } },
      axisLabel: { fontSize: 4.5, color: "#555", margin: 1.5, fontFamily: FONT },
      splitLine: { show: false },
    });
    series.push({
      type: "line", name: gene + " groups", xAxisIndex: xi, yAxisIndex: yi, silent: true, z: 1,
      data: [[0, 0]], showSymbol: false, symbol: "none", lineStyle: { opacity: 0 },
      markArea: {
        silent: true,
        data: salivaGroupNames.map((_, g) => [
          { xAxis: salivaGroupStart[g], itemStyle: { color: SALIVA_BG[g], opacity: 1 } },
          { xAxis: salivaGroupEnd[g] },
        ]),
      },
    });
    series.push({
      type: "line", name: gene, xAxisIndex: xi, yAxisIndex: yi, silent: true, z: 3,
      data: salivaSeries[i].map((v, k) => [k, v]),
      symbol: "rect", symbolSize: 2, showSymbol: true,
      lineStyle: { color: "#111", width: 0.8 },
      itemStyle: { color: "#111" },
    });
    graphic.push(txt(85, top + 14.5, gene, { size: 10, italic: true, color: OLIVE, align: "right" }));
  });

  /* ---- (F) ridgeline densities ---- */
  graphic.push(txt(302, 417, "(F)", { size: 11.5, weight: "bold" }));
  graphic.push(txt(477, 417, "Expression of selected lymph node positivity", { size: 11.5, weight: "bold" }));
  graphic.push(txt(477, 432, "signature in tumors (public data)", { size: 11.5, weight: "bold" }));
  graphic.push(txt(583, 472, "Log2 FC:", { size: 10, weight: "bold" }));
  graphic.push(txt(583, 484, "M vs Ctrl", { size: 10, weight: "bold" }));
  graphic.push(txt(476, 837, "Log2 (gene expressions)", { size: 10, color: "#333" }));

  const fBg = grid.length;
  grid.push({ left: 396, top: 455, width: 160, height: 352 });
  const fbx = xAxis.length;
  xAxis.push({ type: "value", gridIndex: fBg, min: -0.4, max: 15.5, show: false });
  const fby = yAxis.length;
  yAxis.push({ type: "value", gridIndex: fBg, min: 0, max: 1, show: false });
  series.push({
    type: "line", name: "grid lines", xAxisIndex: fbx, yAxisIndex: fby, silent: true, z: 1,
    data: [[0, 0]], showSymbol: false, symbol: "none", lineStyle: { opacity: 0 },
    markLine: {
      silent: true, symbol: ["none", "none"], label: { show: false },
      lineStyle: { type: "solid", color: "#ececec", width: 0.7 },
      data: [0, 2.5, 5, 7.5, 10, 12.5, 15].map((v) => ({ xAxis: v })),
    },
  });

  ridgeGenes.forEach((gene, k) => {
    const base = 515 + 32.4 * k;
    const gi = grid.length;
    grid.push({ left: 396, top: base - 62, width: 160, height: 62 });
    const xi = xAxis.length;
    const last = k === ridgeGenes.length - 1;
    xAxis.push({
      type: "value", gridIndex: gi, min: -0.4, max: 15.5, show: last,
      axisLine: { show: false, onZero: false }, axisTick: { show: false }, splitLine: { show: false },
      axisLabel: { show: last, customValues: ridgeTicks, fontSize: 10, color: "#333", margin: 7, fontFamily: FONT },
    });
    const yi = yAxis.length;
    yAxis.push({ type: "value", gridIndex: gi, min: 0, max: 62, show: false });
    series.push({
      type: "line", name: gene + " baseline", xAxisIndex: xi, yAxisIndex: yi, silent: true, clip: false, z: 2,
      data: [[-0.4, 0], [15.5, 0]], symbol: "none", showSymbol: false,
      lineStyle: { color: "#1a1a1a", width: 1.1 },
    });
    const d = ridgeData[k];
    [d.ctrl, d.tumor, d.meta].forEach((curve, g) => {
      series.push({
        type: "line", name: ridgeGroups[g], xAxisIndex: xi, yAxisIndex: yi, silent: true, z: 2,
        data: curve, smooth: 0.45, symbol: "none", showSymbol: false,
        lineStyle: { color: "#1f1f1f", width: 0.7 },
        itemStyle: { color: RIDGE_KEY[g] },
        areaStyle: { color: RIDGE_FILL[g], origin: "start", opacity: 1 },
      });
    });
    graphic.push(txt(387, base - 15, gene, { size: 10, italic: true, color: "#333", align: "right" }));
    graphic.push(txt(568, base - 10, ridgeFoldChange[k], { size: 10.5, color: "#333", align: "left" }));
  });

  return {
    animation: false,
    backgroundColor: "#ffffff",
    textStyle: { fontFamily: FONT },
    legend: {
      show: true, selectedMode: false, left: 385, top: 864, padding: 0,
      icon: "rect", itemWidth: 9, itemHeight: 9, itemGap: 18,
      textStyle: { fontSize: 10, color: "#333", fontFamily: FONT },
      data: ridgeGroups.map((g, i) => ({ name: g, itemStyle: { color: RIDGE_KEY[i], borderColor: "#333", borderWidth: 1 } })),
    },
    grid,
    xAxis,
    yAxis,
    series,
    graphic: { elements: graphic },
  };
}

export default function App() {
  const ref = useRef<HTMLDivElement | null>(null);
  useEffect(() => {
    if (!ref.current) return;
    const chart = echarts.init(ref.current, undefined, { renderer: "svg" });
    chart.setOption(buildOption() as any);
    return () => chart.dispose();
  }, []);
  return (
    <div
      ref={ref}
      style={{ position: "absolute", left: 0, top: 0, width: 709, height: 876, background: "#ffffff" }}
    />
  );
}
